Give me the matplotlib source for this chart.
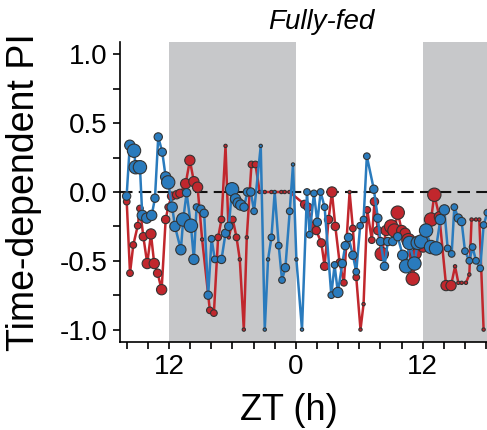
import matplotlib
matplotlib.use('Agg')

import matplotlib.pyplot as plt
from matplotlib.ticker import FixedLocator, MultipleLocator

plt.rcParams['font.family'] = ['Liberation Sans', 'DejaVu Sans']
plt.rcParams['axes.unicode_minus'] = False

# time axis in hours (12 = ZT12 of day 1, 24 = ZT0, 36 = ZT12 of day 2)
blue_t = [8.0, 8.3, 8.7, 8.86, 9.26, 9.48, 9.9, 10.37, 10.68, 10.99,
          11.37, 11.69, 11.93, 12.31, 12.57, 13.13, 13.35, 13.67, 14.08, 14.36,
          14.61, 15.02, 15.33, 15.71, 16.03, 16.34, 16.97, 17.35, 17.66, 17.97,
          18.29, 18.54, 18.79, 19.1, 19.42, 19.74, 20.05, 20.68, 21.06, 21.37,
          21.69, 22.0, 22.38, 22.69, 23.01, 23.42, 23.73, 24.05, 24.58, 25.05,
          25.3, 25.71, 26.03, 26.34, 26.72, 27.35, 27.66, 27.97, 28.39, 28.67,
          28.98, 29.39, 29.71, 30.08, 30.4, 30.71, 31.37, 31.75, 32.0, 32.38,
          32.69, 33.16, 33.63, 34.1, 34.42, 34.74, 35.21, 35.52, 35.84, 36.31,
          36.78, 37.25, 37.66, 38.04, 38.35, 38.73, 38.98, 39.36, 39.67, 39.99,
          40.4, 40.71, 41.03, 41.43, 41.75, 42.1]
blue_pi = [-0.03, 0.34, 0.30, 0.18, 0.18, -0.17, -0.19, -0.17, -0.045, 0.40,
           0.29, 0.11, 0.07, -0.11, -0.25, -0.42, -0.20, -0.005, -0.245, -0.49,
           -0.11, -0.125, -0.155, -0.75, -0.34, -0.49, -0.49, -0.30, -0.25, 0.02,
           -0.05, -0.08, -0.095, -0.11, 0.0, 0.0, -0.14, 0.335, -1.0, -0.49,
           -0.33, 0.0, -0.39, -0.64, -0.55, -0.14, 0.20, -0.49, -1.0, 0.0,
           -0.31, -0.01, -0.22, 0.0, -0.11, -0.75, -0.53, -0.73, -0.52, -0.39,
           -0.33, -0.46, -0.58, -0.245, -0.20, 0.26, 0.02, -0.19, -0.36, -0.54,
           -0.36, -0.36, -0.325, -0.46, -0.54, -0.37, -0.52, -0.37, -0.36, -0.28,
           -0.40, -0.41, -0.20, -0.13, -0.41, -0.45, -0.11, -0.19, -0.215, -0.43,
           -0.50, -0.40, -0.50, -0.555, -0.24, -0.15]
# relative weight of each bin (drawn as marker size)
blue_n = [2, 3, 4, 4, 4, 3, 3, 3, 2, 2,
          2, 3, 4, 3, 3, 3, 4, 2, 4, 3,
          1, 2, 2, 2, 1, 1, 2, 2, 2, 4,
          3, 3, 3, 2, 2, 2, 1, 0, 0, 0,
          1, 0, 1, 1, 2, 1, 0, 0, 0, 1,
          1, 1, 2, 1, 1, 1, 1, 3, 2, 2,
          2, 2, 1, 1, 1, 1, 2, 2, 2, 2,
          2, 2, 2, 3, 4, 4, 4, 4, 4, 4,
          4, 4, 3, 3, 1, 1, 1, 2, 2, 1,
          1, 1, 1, 1, 1, 1]

red_t = [8.01, 8.32, 8.63, 9.05, 9.26, 9.58, 9.95, 10.3, 10.61, 10.93,
         11.31, 11.69, 11.93, 12.25, 12.73, 13.04, 13.58, 13.98, 14.36, 14.71,
         15.14, 15.87, 16.25, 16.65, 16.97, 17.35, 17.66, 18.04, 18.39, 18.7,
         19.08, 19.36, 19.8, 20.18, 20.58, 21.06, 21.69, 22.63, 22.94, 23.4,
         24.83, 25.14, 25.61, 25.93, 26.41, 26.72, 27.09, 27.41, 27.73, 28.13,
         28.54, 29.08, 29.39, 29.71, 30.11, 30.4, 30.75, 31.18, 31.43, 31.75,
         32.12, 32.54, 33.01, 33.32, 33.63, 34.01, 34.33, 34.64, 35.05, 35.37,
         36.03, 36.78, 37.09, 37.57, 38.2, 38.67, 39.05, 39.36, 39.67, 40.08,
         40.4, 40.61, 41.03, 41.34, 41.75]
red_pi = [-0.07, -0.59, -0.385, -0.245, -0.12, -0.325, -0.52, -0.305, -0.52, -0.59,
          -0.71, -0.20, -0.11, -0.03, -0.02, -0.01, 0.06, 0.23, 0.075, 0.035,
          -0.345, -0.86, -0.88, -0.33, -0.20, 0.335, -0.33, -0.20, -0.33, -0.49,
          -1.0, -0.33, 0.20, 0.20, 0.0, 0.0, 0.0, 0.0, 0.0, 0.0,
          -0.09, -0.11, -0.25, -0.28, -0.37, -0.54, -0.20, 0.0, -0.25, -0.51,
          -0.66, 0.0, -0.265, -0.62, -1.0, -0.815, -0.13, -0.35, -0.07, -0.28,
          -0.45, -0.28, -0.25, -0.28, -0.15, -0.28, -0.30, -0.35, -0.63, -0.45,
          -0.40, -0.20, -0.02, -0.18, -0.68, -0.68, -0.54, -0.66, -0.66, -0.66,
          -0.60, -0.20, -0.20, -0.20, -1.0]
red_n = [1, 1, 1, 1, 1, 2, 3, 3, 3, 2,
         3, 2, 1, 2, 2, 2, 3, 3, 3, 3,
         0, 1, 1, 1, 1, 0, 0, 1, 1, 0,
         0, 0, 1, 1, 0, 0, 0, 0, 0, 0,
         2, 2, 2, 2, 2, 2, 2, 3, 2, 1,
         1, 0, 1, 1, 0, 0, 1, 1, 2, 2,
         4, 3, 4, 4, 4, 3, 3, 4, 4, 3,
         3, 4, 4, 3, 3, 3, 0, 0, 0, 0,
         0, 0, 0, 0, 0]

# dark phases (ZT12-ZT24)
dark = [(12, 24), (36, 48)]

RED = '#c1272d'
BLUE = '#2a7bbd'
EDGE = '#333333'
# marker diameter (pt) per weight class
DIAM = [2.4, 4.8, 6.0, 7.4, 9.6]


def areas(n):
    return [DIAM[k] ** 2 for k in n]


fig = plt.figure(figsize=(4.87, 4.30), dpi=100)
ax = fig.add_axes([0.2474, 0.2047, 0.7526, 0.6976])

for start, stop in dark:
    ax.axvspan(start, stop, color='#c7c8ca', lw=0, zorder=0)

ax.axhline(0, color='#111111', lw=1.5, ls=(0, (6, 3)), zorder=1)

ax.plot(red_t, red_pi, color=RED, lw=1.8, zorder=2)
ax.scatter(red_t, red_pi, s=areas(red_n), c=RED, edgecolors=EDGE,
           linewidths=0.8, zorder=3)
ax.plot(blue_t, blue_pi, color=BLUE, lw=1.8, zorder=4)
ax.scatter(blue_t, blue_pi, s=areas(blue_n), c=BLUE, edgecolors=EDGE,
           linewidths=0.8, zorder=5)

ax.set_xlim(7.42, 42.07)
ax.set_ylim(-1.09, 1.09)

# axes cosmetics
for side in ('top', 'right'):
    ax.spines[side].set_visible(False)
for side in ('left', 'bottom'):
    ax.spines[side].set_linewidth(1.2)

ax.xaxis.set_major_locator(FixedLocator([12, 24, 36]))
ax.set_xticklabels(['12', '0', '12'])
ax.xaxis.set_minor_locator(MultipleLocator(2))
ax.yaxis.set_major_locator(FixedLocator([-1.0, -0.5, 0.0, 0.5, 1.0]))
ax.set_yticklabels(['-1.0', '-0.5', '0.0', '0.5', '1.0'])
ax.yaxis.set_minor_locator(MultipleLocator(0.25))
ax.tick_params(which='both', direction='out', length=5, width=1.2)
ax.tick_params(axis='both', which='major', labelsize=20, pad=4)

ax.set_xlabel('ZT (h)', fontsize=26)
ax.xaxis.set_label_coords(0.46, -0.17)
ax.set_ylabel('Time-dependent PI', fontsize=27)
ax.yaxis.set_label_coords(-0.215, 0.5)

fig.text(0.659, 0.948, 'Fully-fed', fontsize=20, style='italic',
         ha='center', va='center')

fig.savefig('out.png', dpi=100)
